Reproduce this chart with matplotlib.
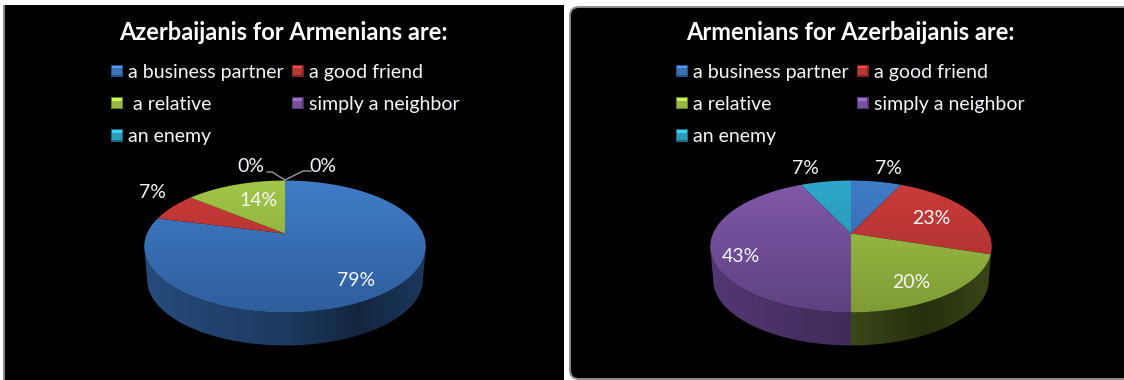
import numpy as np
import matplotlib
matplotlib.use("Agg")
import matplotlib.pyplot as plt
from matplotlib.colors import LinearSegmentedColormap, to_rgb
from matplotlib.legend_handler import HandlerBase
from matplotlib.patches import Patch, PathPatch, Rectangle, FancyBboxPatch
from matplotlib.path import Path

plt.rcParams['font.family'] = ['Lato', 'DejaVu Sans']

categories = ["a business partner", "a good friend", "a relative", "simply a neighbor", "an enemy"]
left_labels = ["a business partner", "a good friend", " a relative", "simply a neighbor", "an enemy"]
left_title = "Azerbaijanis for Armenians are:"
right_title = "Armenians for Azerbaijanis are:"
left_values = [79, 7, 14, 0, 0]
right_values = [7, 23, 20, 43, 7]

# top colour, bottom colour and wall colour of each slice
top_colors = ["#407DC8", "#CB3C3A", "#A3C748", "#8159A9", "#2FA8CB"]
low_colors = ["#2F5E9C", "#A22E2C", "#7E9B35", "#5F4182", "#2787A5"]
wall_colors = ["#2F5E9C", "#A22E2C", "#5E7526", "#674690", "#2787A5"]

# pixel position of the percent labels
left_label_xy = [(356, 280), (152, 193), (259, 201), (251, 166), (323, 166)]
right_label_xy = [(888, 168), (931, 218), (911, 283), (741, 257), (805, 168)]

K = 0.197      # perspective of the pie top
SX = 138
SY = 63.4
DEPTH = 33
WALL_START = 101.4
WALL_END = 258.6


def project(theta, cx, cy):
    # theta in degrees, clockwise from 12 o'clock
    t = np.radians(theta)
    w = 1 + K * np.cos(t)
    return cx + SX * np.sin(t) / w, cy - SY * np.cos(t) / w


def fill_gradient(ax, verts, cmap, extent, horizontal=False):
    grad = np.linspace(0, 1, 256)
    grad = grad.reshape(1, -1) if horizontal else grad.reshape(-1, 1)
    im = ax.imshow(grad, cmap=cmap, extent=extent, aspect="auto", origin="lower", zorder=2)
    clip = PathPatch(Path(verts, closed=False), transform=ax.transData, fc="none", ec="none")
    ax.add_patch(clip)
    im.set_clip_path(clip)


def shade(color, f):
    return tuple(c * f for c in to_rgb(color))


class BevelHandler(HandlerBase):
    # small square legend key, lit from the top
    def create_artists(self, legend, handle, xd, yd, w, h, fs, trans):
        c = handle.get_facecolor()
        s = h * 1.0
        y0 = yd * -1 + (h - s) / 2
        x0 = -xd
        parts = [
            Rectangle((x0, y0), s, s, fc=shade(c, 0.62), ec="none"),
            Rectangle((x0 + s * 0.12, y0 + s * 0.15), s * 0.76, s * 0.62, fc=shade(c, 0.92), ec="none"),
            Rectangle((x0 + s * 0.12, y0 + s * 0.72), s * 0.76, s * 0.2, fc=tuple(min(1, v * 1.25) for v in c[:3]), ec="none"),
        ]
        for p in parts:
            p.set_transform(trans)
        return parts


def draw_pie(ax, values, cx, cy):
    edges = np.cumsum([0] + values) * 3.6
    left, right = cx - 142, cx + 142
    top, bottom = cy - 54, cy + 80

    # side wall first, the top face goes over it
    for i in range(len(values)):
        a = max(edges[i], WALL_START)
        b = min(edges[i + 1], WALL_END)
        if b <= a:
            continue
        th = np.linspace(a, b, 120)
        x, y = project(th, cx, cy)
        xb = cx + (x - cx) * 0.98
        verts = np.vstack([np.column_stack([x, y]), np.column_stack([xb, y + DEPTH])[::-1]])
        base = wall_colors[i]
        cmap = LinearSegmentedColormap.from_list(
            "wall", [(0, shade(base, 0.8)), (0.5, shade(base, 0.62)), (0.76, shade(base, 0.4)), (1, shade(base, 0.6))])
        fill_gradient(ax, verts, cmap, (left, right, bottom + DEPTH, top), horizontal=True)

    # top face of every slice
    for i in range(len(values)):
        if values[i] == 0:
            continue
        th = np.linspace(edges[i], edges[i + 1], 240)
        x, y = project(th, cx, cy)
        verts = np.vstack([[cx, cy], np.column_stack([x, y]), [cx, cy]])
        cmap = LinearSegmentedColormap.from_list("top", [low_colors[i], top_colors[i]])
        fill_gradient(ax, verts, cmap, (left, right, bottom, top))


def draw_panel(ax, title, title_x, values, labels, label_xy, cx, legend_xy, colspace):
    ax.text(title_x, 32, title, color="white", fontsize=17, fontweight="bold",
            ha="center", va="center", zorder=5)

    handles = [Patch(facecolor=c) for c in top_colors]
    order = [0, 2, 4, 1, 3]
    leg = ax.legend([handles[i] for i in order], [labels[i] for i in order], ncol=2,
                    loc="upper left", bbox_to_anchor=legend_xy, bbox_transform=ax.transData,
                    frameon=False, fontsize=14, labelcolor="#F4F7FC", borderpad=0, borderaxespad=0,
                    handlelength=0.58, handleheight=0.58, handletextpad=0.3, labelspacing=0.78,
                    columnspacing=colspace, handler_map={Patch: BevelHandler()})
    leg.set_zorder(5)

    draw_pie(ax, values, cx, 233.5)

    for v, (x, y) in zip(values, label_xy):
        ax.text(x, y, f"{v}%", color="#F4F7FC", fontsize=14, ha="center", va="center", zorder=6)


fig = plt.figure(figsize=(11.24, 3.80), dpi=100, facecolor="white")

ax1 = fig.add_axes([0, 0, 567 / 1124, 1])
ax1.set_xlim(0, 567)
ax1.set_ylim(380, 0)
ax1.axis("off")
ax1.add_patch(Rectangle((4, 5), 560, 376, fc="black", ec="none", zorder=0))
ax1.add_patch(Rectangle((3, 5), 1.5, 376, fc="#8A8A8A", ec="none", zorder=0))

ax2 = fig.add_axes([567 / 1124, 0, 557 / 1124, 1])
ax2.set_xlim(567, 1124)
ax2.set_ylim(380, 0)
ax2.axis("off")
ax2.add_patch(FancyBboxPatch((575, 12), 600, 362, boxstyle="round,pad=5,rounding_size=9",
                             fc="black", ec="#8C8C8C", lw=1.4, zorder=0))

draw_panel(ax1, left_title, 283, left_values, left_labels, left_label_xy, 285, (111, 64), 0.41)
draw_panel(ax2, right_title, 850, right_values, categories, right_label_xy, 851, (676, 64), 0.41)

# leader lines of the two empty slices
ax1.plot([285, 272, 267], [180, 172, 172], color="#9A9A9A", lw=1, zorder=6)
ax1.plot([285, 303, 311], [180, 171, 171], color="#9A9A9A", lw=1, zorder=6)

ax1.set_xlim(0, 567)
ax1.set_ylim(380, 0)
ax2.set_xlim(567, 1124)
ax2.set_ylim(380, 0)

fig.savefig("out.png", dpi=100, facecolor="white")
